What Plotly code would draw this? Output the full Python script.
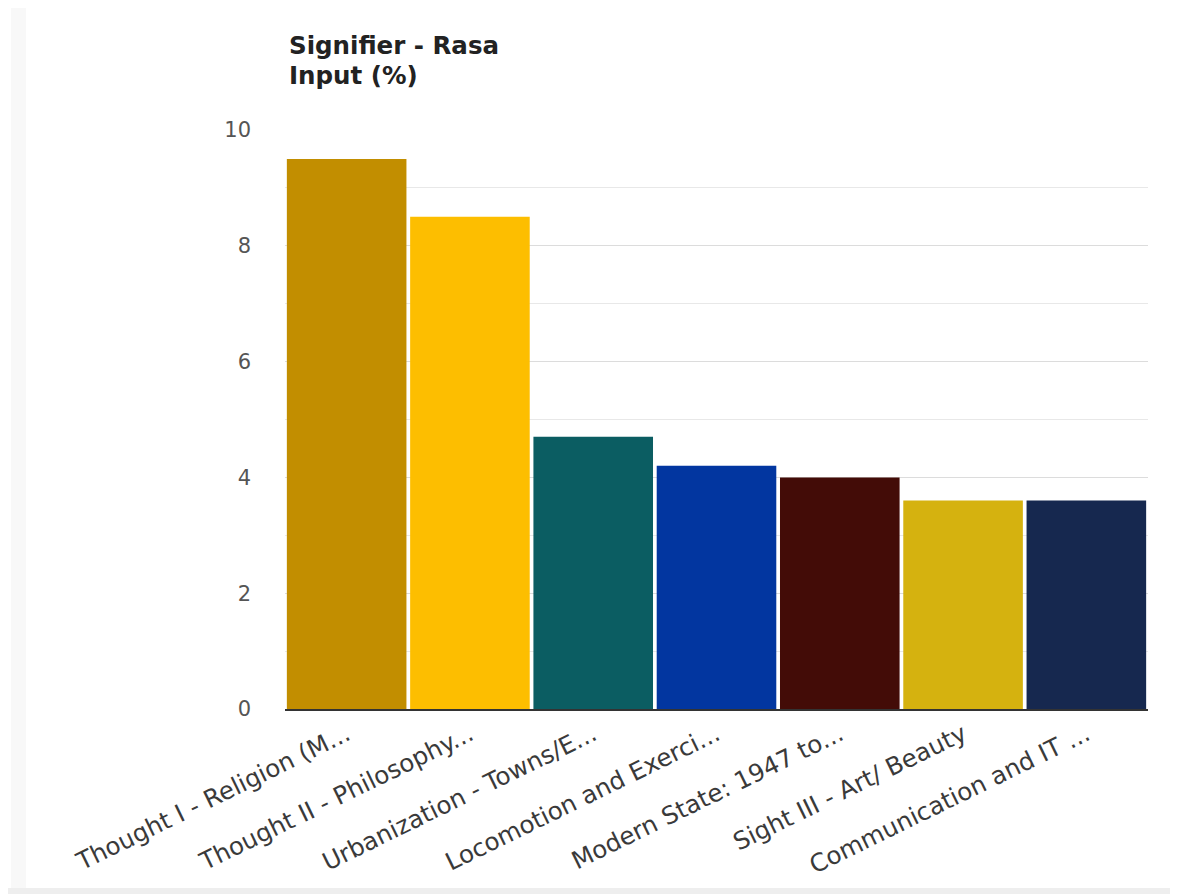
import plotly.graph_objects as go

categories = [
    "Thought I - Religion (M...",
    "Thought II - Philosophy...",
    "Urbanization - Towns/E...",
    "Locomotion and Exerci...",
    "Modern State: 1947 to...",
    "Sight III - Art/ Beauty",
    "Communication and IT ...",
]
values = [9.5, 8.5, 4.7, 4.2, 4.0, 3.6, 3.6]
colors = ["#C28E00", "#FDBE00", "#0B5D62", "#0236A0", "#430C07", "#D5B20F", "#16284F"]
y_ticks = [0, 2, 4, 6, 8, 10]

# the page body adds an 8px margin; figure is sized to fill the rest
W, H = 1170, 886
L, R, T, B = 277, 30, 122, 185
PW, PH = W - L - R, H - T - B


def px(fx):
    return (fx - L) / PW


def py(fy):
    return (H - B - fy) / PH


fig = go.Figure(
    go.Bar(
        x=categories,
        y=values,
        marker=dict(color=colors, line=dict(width=0)),
        showlegend=False,
    )
)

fig.update_layout(
    width=W,
    height=H,
    margin=dict(l=L, r=R, t=T, b=B, autoexpand=False),
    paper_bgcolor="white",
    plot_bgcolor="white",
    bargap=0.03,
    font=dict(family="DejaVu Sans, sans-serif", size=20, color="#444444"),
    xaxis=dict(
        tickangle=-26,
        tickfont=dict(size=24.5, color="#3A3A3A", family="DejaVu Sans, sans-serif"),
        showline=True,
        linecolor="#333333",
        linewidth=1.5,
        showgrid=False,
        ticks="",
    ),
    yaxis=dict(
        range=[0, 10],
        tickvals=y_ticks,
        tickfont=dict(size=21, color="#555555", family="DejaVu Sans, sans-serif"),
        showgrid=True,
        gridcolor="#DCDCDC",
        gridwidth=1,
        zeroline=False,
        ticks="",
        ticklabelstandoff=33,
        minor=dict(dtick=1, showgrid=True, gridcolor="#E8E8E8", gridwidth=1),
    ),
    annotations=[
        dict(
            text="<b>Signifier - Rasa</b>",
            xref="paper", yref="paper",
            x=px(279), y=py(37),
            xanchor="left", yanchor="middle",
            showarrow=False,
            font=dict(size=24.5, color="#222222", family="DejaVu Sans, sans-serif"),
        ),
        dict(
            text="<b>Input (%)</b>",
            xref="paper", yref="paper",
            x=px(279), y=py(67),
            xanchor="left", yanchor="middle",
            showarrow=False,
            font=dict(size=24.5, color="#222222", family="DejaVu Sans, sans-serif"),
        ),
    ],
    shapes=[
        dict(
            type="rect", xref="paper", yref="paper",
            x0=px(-10), x1=px(W + 10),
            y0=py(H + 10), y1=py(880),
            fillcolor="#EEEEEE", line=dict(width=0), layer="below",
        ),
        dict(
            type="rect", xref="paper", yref="paper",
            x0=px(3), x1=px(18),
            y0=py(880), y1=py(-3),
            fillcolor="#F8F8F8", line=dict(width=0), layer="below",
        ),
    ],
)

fig.write_html("out.html")
